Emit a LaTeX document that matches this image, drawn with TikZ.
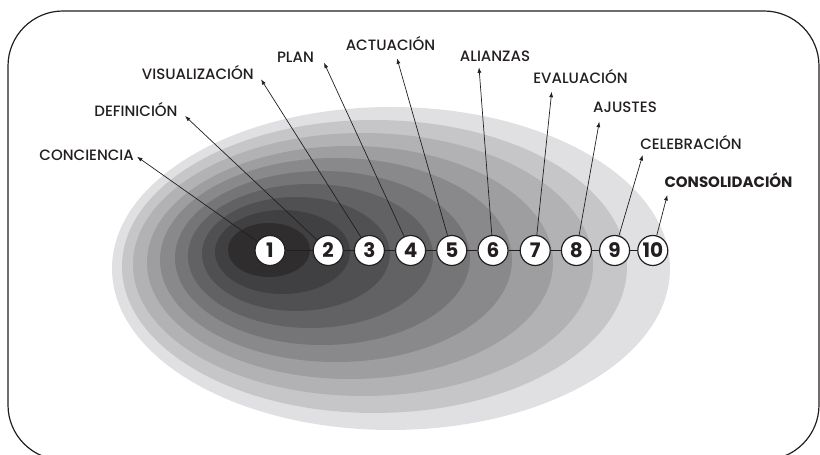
\documentclass[tikz,border=0pt]{standalone}
\usepackage{fontspec}
\setmainfont{Poppins Medium}[BoldFont={Poppins Bold}]
\usepackage{xcolor}
\usepackage{tikz}
\usetikzlibrary{arrows.meta, positioning}
\definecolor{inkcolor}{RGB}{35, 31, 32}
\definecolor{ring1}{RGB}{47, 45, 46}
\definecolor{ring2}{RGB}{64, 64, 66}
\definecolor{ring3}{RGB}{80, 80, 82}
\definecolor{ring4}{RGB}{98, 98, 101}
\definecolor{ring5}{RGB}{117, 117, 120}
\definecolor{ring6}{RGB}{137, 137, 140}
\definecolor{ring7}{RGB}{158, 158, 161}
\definecolor{ring8}{RGB}{178, 178, 181}
\definecolor{ring9}{RGB}{198, 198, 201}
\definecolor{ring10}{RGB}{224, 224, 226}

\begin{document}
\begin{tikzpicture}[
    x=1pt, y=1pt,
    stage/.style={circle, draw=inkcolor, line width=1.2pt, fill=white, minimum size=30pt, inner sep=0pt, text=inkcolor, font=\bfseries\fontsize{20}{20}\selectfont},
    phase/.style={anchor=base, inner sep=0pt, text=inkcolor, font=\fontsize{15}{16}\selectfont},
    arrow/.style={-{Latex[length=5.5pt, width=4pt]}, line width=0.7pt, draw=inkcolor},
    link/.style={line width=1.2pt, draw=inkcolor}
]
    \useasboundingbox (0,0) rectangle (820,455);
    \draw[line width=1.2pt, inkcolor, rounded corners=55pt] (8,-5) rectangle (819,444);

    \fill[ring10] (391,186.5) ellipse [x radius=279, y radius=161.5];
    \fill[ring9] (374.5,188.5) ellipse [x radius=252.5, y radius=146.5];
    \fill[ring8] (363,190.5) ellipse [x radius=230, y radius=131.5];
    \fill[ring7] (350,192.5) ellipse [x radius=203, y radius=116.5];
    \fill[ring6] (336,195) ellipse [x radius=176, y radius=102];
    \fill[ring5] (322.5,197) ellipse [x radius=147.5, y radius=87];
    \fill[ring4] (310.5,199) ellipse [x radius=122.5, y radius=72];
    \fill[ring3] (296,201) ellipse [x radius=94, y radius=57];
    \fill[ring2] (282.5,203) ellipse [x radius=67.5, y radius=42];
    \fill[ring1] (269,205) ellipse [x radius=41, y radius=27];

    \node[stage] (n1) at (270,204.5) {1};
    \node[stage, right=27pt of n1] (n2) {2};
    \node[stage, right=10pt of n2] (n3) {3};
    \node[stage, right=10pt of n3] (n4) {4};
    \node[stage, right=10pt of n4] (n5) {5};
    \node[stage, right=10pt of n5] (n6) {6};
    \node[stage, right=11pt of n6] (n7) {7};
    \node[stage, right=10pt of n7] (n8) {8};
    \node[stage, right=7pt of n8] (n9) {9};
    \node[stage, right=7pt of n9] (n10) {10};

    \node[phase] (conciencia) at (86.7,294.3) {CONCIENCIA};
    \node[phase] (definicion) at (136,338) {DEFINICIÓN};
    \node[phase] (visualizacion) at (197.8,375.7) {VISUALIZACIÓN};
    \node[phase] (plan) at (295.5,392.7) {PLAN};
    \node[phase] (actuacion) at (390.5,404.3) {ACTUACIÓN};
    \node[phase] (alianzas) at (495,393.3) {ALIANZAS};
    \node[phase] (evaluacion) at (580.5,371.7) {EVALUACIÓN};
    \node[phase] (ajustes) at (625,342.3) {AJUSTES};
    \node[phase] (celebracion) at (691,305) {CELEBRACIÓN};
    \node[phase, font=\bfseries\fontsize{15}{16}\selectfont] (consolidacion) at (728.5,267.7) {CONSOLIDACIÓN};

    \coordinate (t1) at (137,298.3);
    \coordinate (t2) at (185,339);
    \coordinate (t3) at (261,375.7);
    \coordinate (t4) at (324,392.3);
    \coordinate (t5) at (397,396.7);
    \coordinate (t6) at (479,387.7);
    \coordinate (t7) at (551.7,363.3);
    \coordinate (t8) at (599.3,333.3);
    \coordinate (t9) at (642.7,300);
    \coordinate (t10) at (667.3,260);

    \draw[arrow] (n1) -- (t1);
    \draw[arrow] (n2) -- (t2);
    \draw[arrow] (n3) -- (t3);
    \draw[arrow] (n4) -- (t4);
    \draw[arrow] (n5) -- (t5);
    \draw[arrow] (n6) -- (t6);
    \draw[arrow] (n7) -- (t7);
    \draw[arrow] (n8) -- (t8);
    \draw[arrow] (n9) -- (t9);
    \draw[arrow] (n10) -- (t10);
    \draw[link] (n1) -- (n2) -- (n3) -- (n4) -- (n5) -- (n6) -- (n7) -- (n8) -- (n9) -- (n10);
\end{tikzpicture}
\end{document}
